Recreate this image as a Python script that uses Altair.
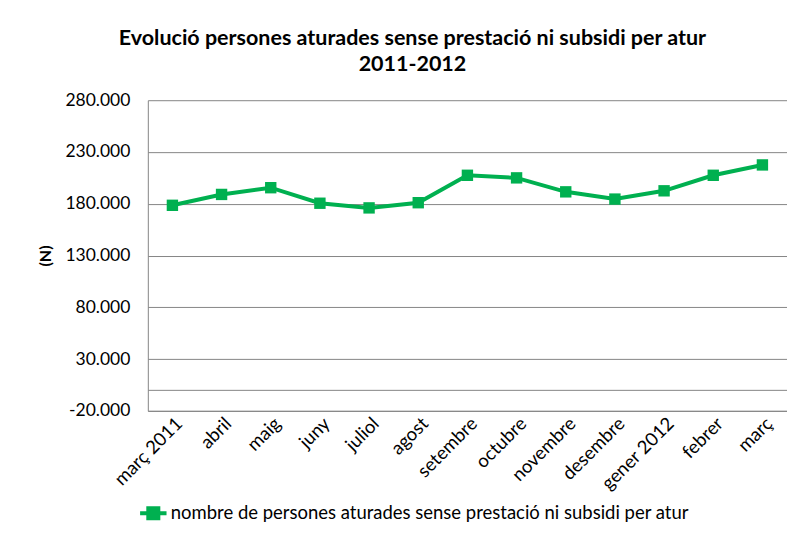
import altair as alt
import pandas as pd

months = ["març 2011", "abril", "maig", "juny", "juliol", "agost", "setembre",
          "octubre", "novembre", "desembre", "gener 2012", "febrer", "març"]
values = [178500, 189000, 195500, 180500, 176000, 181000, 207500,
          205000, 191500, 184500, 192500, 207500, 217500]
series_name = "nombre de persones aturades sense prestació ni subsidi per atur"
y_ticks = [-20000, 0, 30000, 80000, 130000, 180000, 230000, 280000]
title_lines = ["Evolució persones aturades sense prestació ni subsidi per atur", "2011-2012"]

df = pd.DataFrame({"mes": months, "valor": values, "serie": [series_name] * len(months)})

green = "#00B050"
FONT = "Lato"

legend_symbol = "M-1,0L1,0M-0.38,-0.38L0.38,-0.38L0.38,0.38L-0.38,0.38Z"

chart = alt.Chart(df).mark_line(
    strokeWidth=4,
    point=alt.OverlayMarkDef(shape="square", size=130, filled=True, color=green, opacity=1),
).encode(
    x=alt.X("mes:N", sort=months, title=None,
            scale=alt.Scale(paddingInner=0, paddingOuter=0.5),
            axis=alt.Axis(labelAngle=-45, labelFont=FONT, labelFontSize=18.5, labelColor="#000000",
                          ticks=False, domainColor="#868686", labelPadding=3, labelLimit=200)),
    y=alt.Y("valor:Q", title="(N)",
            scale=alt.Scale(domain=[-20000, 280000], nice=False, zero=False),
            axis=alt.Axis(values=y_ticks,
                          labelExpr="datum.value == 0 ? '' : replace(replace(format(datum.value, ','), ',', '.'), '\u2212', '-')",
                          labelFont=FONT, labelFontSize=17.5, labelColor="#000000",
                          ticks=False, labelPadding=18, grid=True, gridColor="#868686",
                          domainColor="#868686", titleFont=FONT, titleFontSize=16,
                          titleFontWeight="bold", titleColor="#000000", titlePadding=11)),
    color=alt.Color("serie:N", scale=alt.Scale(range=[green]),
                    legend=alt.Legend(title=None, orient="none", legendX=-10, legendY=398,
                                      symbolType=legend_symbol, symbolSize=700,
                                      symbolStrokeWidth=4, symbolFillColor=green,
                                      symbolStrokeColor=green,
                                      labelFont=FONT, labelFontSize=18.5, labelColor="#000000",
                                      labelLimit=0, labelOffset=2)),
).properties(
    width=640,
    height=311,
    padding={"left": 29, "top": 19, "right": 0, "bottom": 5},
    title=alt.TitleParams(title_lines, font=FONT, fontSize=21.5, fontWeight="bold",
                          color="#000000", anchor="middle", frame="bounds",
                          offset=16, lineHeight=26),
).configure_view(stroke=None)

chart.save("out.html", embed_options={"renderer": "svg", "actions": False})
